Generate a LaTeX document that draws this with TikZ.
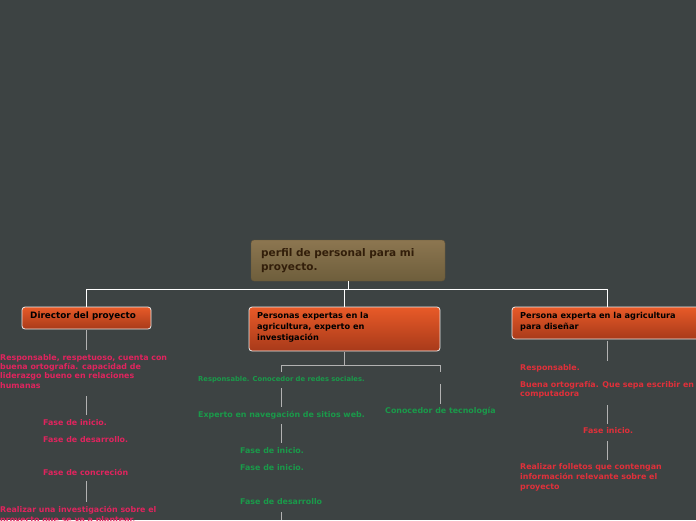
\documentclass[tikz,border=0pt]{standalone}
\usepackage{fontspec}
\setmainfont{DejaVu Sans}
\begin{document}
\begin{tikzpicture}[x=1pt,y=-1pt,
  box/.style={draw=white!85!gray,line width=0.8pt,rounded corners=3pt,inner sep=0pt},
  lbl/.style={anchor=north west,inner sep=0pt,align=left,font=\bfseries\fontsize{7.9}{9.3}\selectfont},
  red/.style={lbl,text=rosec},
  grn/.style={lbl,text=grnc},
  conn/.style={draw=gray!60,line width=0.8pt}]
\definecolor{bg}{HTML}{3D4343}
\definecolor{rosec}{HTML}{E0245E}
\definecolor{rrc}{HTML}{E0303A}
\definecolor{grnc}{HTML}{1A9A4A}
\definecolor{otop}{HTML}{E85A28}
\definecolor{obot}{HTML}{A83A1A}
\fill[bg] (0,0) rectangle (696,520);
\useasboundingbox (0,0) rectangle (696,520);
% root
\draw[rounded corners=3pt,top color={rgb,255:red,140;green,118;blue,80},bottom color={rgb,255:red,110;green,94;blue,60},draw={rgb,255:red,100;green,84;blue,55}] (251,240) rectangle (445,281);
\node (root) at (348,260.5) {};
\node[lbl,text={rgb,255:red,50;green,30;blue,10},font=\bfseries\fontsize{10.5}{14}\selectfont] (rt) at (261,248) {perfil de personal para mi\\proyecto.};
% children
\draw[box,top color=otop,bottom color=obot] (22,307) rectangle (151,329);
\draw[box,top color=otop,bottom color=obot] (249,307) rectangle (440,351);
\draw[box,top color=otop,bottom color=obot] (512,307) rectangle (700,339);
\node[lbl,text=black,font=\bfseries\fontsize{8.8}{10}\selectfont] (d) at (30,312) {Director del proyecto};
\node[lbl,text=black,font=\bfseries\fontsize{8.2}{11}\selectfont] (p) at (257,312) {Personas expertas en la\\agricultura, experto en\\investigación};
\node[lbl,text=black,font=\bfseries\fontsize{8.2}{11}\selectfont] (e) at (520,312) {Persona experta en la agricultura\\para diseñar};
\coordinate (r0) at (348,281); \coordinate (r1) at (348,289);
\coordinate (dt) at (86,307); \coordinate (pt) at (344,307); \coordinate (et) at (607,307);
\draw[white,line width=0.8pt] (r0) -- (r1) (86,289) -- (607,289) (86,289) -- (dt) (344,289) -- (pt) (607,289) -- (et);
% director branch
\draw[conn] (86,330) -- (86,350) (86,396) -- (86,415) (86,481) -- (86,502);
\node[red,font=\bfseries\fontsize{7.9}{9.3}\selectfont] (d1) at (0,354) {Responsable, respetuoso, cuenta con\\buena ortografía. capacidad de\\liderazgo bueno en relaciones\\humanas};
\node[red] (d2) at (43,419) {Fase de inicio.};
\node[red] (d3) at (43,436) {Fase de desarrollo.};
\node[red] (d4) at (43,469) {Fase de concreción};
\node[red,font=\bfseries\fontsize{7.9}{10}\selectfont] (d5) at (0,506) {Realizar una investigación sobre el\\proyecto que se va a plantear.};
% center branch
\draw[conn] (344,352) -- (344,365) (281,372) -- (281,365) -- (440,365) -- (440,372);
\draw[conn] (281,388) -- (281,407) (440,384) -- (440,404) (281,424) -- (281,443) (281,512) -- (281,520);
\node[grn,font=\bfseries\fontsize{6.8}{8}\selectfont] (c1) at (198,376) {Responsable. Conocedor de redes sociales.};
\node[grn] (c2) at (198,411) {Experto en navegación de sitios web.};
\node[grn] (c3) at (385,407) {Conocedor de tecnología};
\node[grn] (c4) at (240,447) {Fase de inicio.};
\node[grn] (c5) at (240,464) {Fase de inicio.};
\node[grn] (c6) at (240,498) {Fase de desarrollo};
% right branch
\draw[conn] (607,341) -- (607,361) (607,405) -- (607,424) (607,441) -- (607,460);
\node[lbl,text=rrc] (e1) at (520,364) {Responsable.};
\node[lbl,text=rrc,font=\bfseries\fontsize{7.9}{9.3}\selectfont] (e2) at (520,381) {Buena ortografía. Que sepa escribir en\\computadora};
\node[lbl,text=rrc] (e3) at (583,427) {Fase inicio.};
\node[lbl,text=rrc,font=\bfseries\fontsize{7.9}{10}\selectfont] (e4) at (520,463) {Realizar folletos que contengan\\información relevante  sobre el\\proyecto};
\end{tikzpicture}
\end{document}
